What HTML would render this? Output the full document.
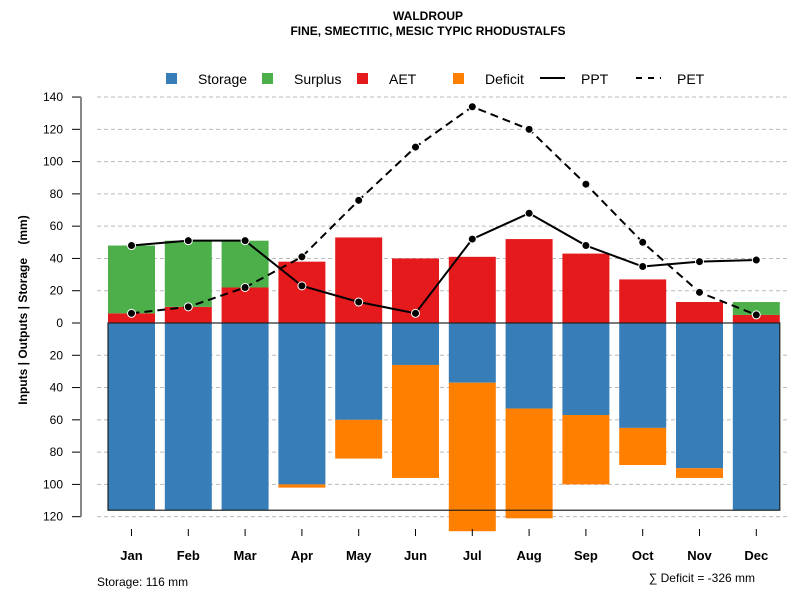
<!DOCTYPE html>
<html><head><meta charset="utf-8"><style>
body{margin:0;background:#fff}
svg text{font-family:"Liberation Sans",Arial,sans-serif}
</style></head><body>
<svg id="c" width="800" height="600" viewBox="0 0 800 600">
<text x="428" y="20" text-anchor="middle" font-size="12" font-weight="bold">WALDROUP</text>
<text x="428" y="35" text-anchor="middle" font-size="12" font-weight="bold">FINE, SMECTITIC, MESIC TYPIC RHODUSTALFS</text>
<g id="grid"></g><g id="bars"></g><g id="axes"></g><g id="lines"></g><g id="legend"></g>
<text x="97" y="586" font-size="12">Storage: 116 mm</text>
<text x="755" y="582" text-anchor="end" font-size="12">∑ Deficit = -326 mm</text>
<text transform="translate(27,310) rotate(-90)" text-anchor="middle" font-size="12" font-weight="bold">Inputs | Outputs | Storage&#160;&#160;&#160;&#160;(mm)</text>
</svg>
<script>
const months=["Jan","Feb","Mar","Apr","May","Jun","Jul","Aug","Sep","Oct","Nov","Dec"];
const storage=[116,116,116,100,60,26,37,53,57,65,90,116];
const deficit=[0,0,0,2,24,70,92,68,43,23,6,0];
const aet=[6,10,22,38,53,40,41,52,43,27,13,5];
const surplus=[42,41,29,0,0,0,0,0,0,0,0,8];
const ppt=[48,51,51,23,13,6,52,68,48,35,38,39];
const pet=[6,10,22,41,76,109,134,120,86,50,19,5];
const yTicks=[140,120,100,80,60,40,20,0,20,40,60,80,100,120];
const yTickVals=[140,120,100,80,60,40,20,0,-20,-40,-60,-80,-100,-120];
const maxStorage=116;
const NS="http://www.w3.org/2000/svg";
const y=v=>323-v*1.614;
const xc=i=>131.5+i*56.8;
const bw=47;
function mk(p,t,a){const e=document.createElementNS(NS,t);for(const k in a)e.setAttribute(k,a[k]);document.getElementById(p).appendChild(e);return e;}
yTickVals.forEach((v,i)=>{
 if(v!==0){const g=mk('grid','line',{x1:97,x2:790,y1:y(v),y2:y(v),stroke:'#bbb','stroke-dasharray':'4,3'});
 
 }
 const t=mk('axes','line',{x1:72,x2:81,y1:y(v),y2:y(v),stroke:'#000'});
 
 
 const l=mk('axes','text',{x:63,y:y(v)+4,'text-anchor':'end','font-size':12});l.textContent=yTicks[i];
 
 
});
const ax=mk('axes','line',{x1:81,x2:81,y1:y(140),y2:y(-120),stroke:'#888','stroke-width':2});


months.forEach((m,i)=>{
 const x0=xc(i)-bw/2;
 const parts=[[0,-storage[i],'#377eb8','storage-bar'],[-storage[i],-storage[i]-deficit[i],'#ff7f00','deficit-bar'],[0,aet[i],'#e41a1c','aet-bar'],[aet[i],aet[i]+surplus[i],'#4daf4a','surplus-bar']];
 parts.forEach(p=>{if(p[0]===p[1])return;
  const r=mk('bars','rect',{x:x0,y:Math.min(y(p[0]),y(p[1])),width:bw,height:Math.abs(y(p[0])-y(p[1])),fill:p[2]});
  
  });
 const tk=mk('axes','line',{x1:xc(i),x2:xc(i),y1:529,y2:536,stroke:'#000'});
 
 
 const t=mk('axes','text',{x:xc(i),y:560,'text-anchor':'middle','font-size':13,'font-weight':'bold'});t.textContent=m;
 
 
});
const box=mk('axes','rect',{x:xc(0)-bw/2,y:y(0),width:xc(11)+bw/2-(xc(0)-bw/2),height:y(-maxStorage)-y(0),fill:'none',stroke:'#222','stroke-width':1.2});


function series(arr,dash,name){
 const pl=mk('lines','polyline',{points:arr.map((v,i)=>xc(i)+','+y(v)).join(' '),fill:'none',stroke:'#000','stroke-width':2,'stroke-dasharray':dash});
 
 
 arr.forEach((v,i)=>{const c=mk('lines','circle',{cx:xc(i),cy:y(v),r:4,fill:'#000',stroke:'#fff','stroke-width':1});
 
 });
}
series(pet,'8,5','pet');series(ppt,'none','ppt');
const leg=[['rect','#377eb8','Storage',166],['rect','#4daf4a','Surplus',262],['rect','#e41a1c','AET',357],['rect','#ff7f00','Deficit',453],['line','none','PPT',541],['line','6,6','PET',637]];
leg.forEach(l=>{
 let s;
 if(l[0]==='rect')s=mk('legend','rect',{x:l[3],y:73,width:11,height:11,fill:l[1]});
 else s=mk('legend','line',{x1:l[3]-1,x2:l[3]+24,y1:78,y2:78,stroke:'#000','stroke-width':2,'stroke-dasharray':l[1]});
 
 
 const t=mk('legend','text',{x:l[0]==='rect'?l[3]+32:l[3]+40,y:84,'font-size':14});t.textContent=l[2];
 
 
});
</script>
</body></html>
